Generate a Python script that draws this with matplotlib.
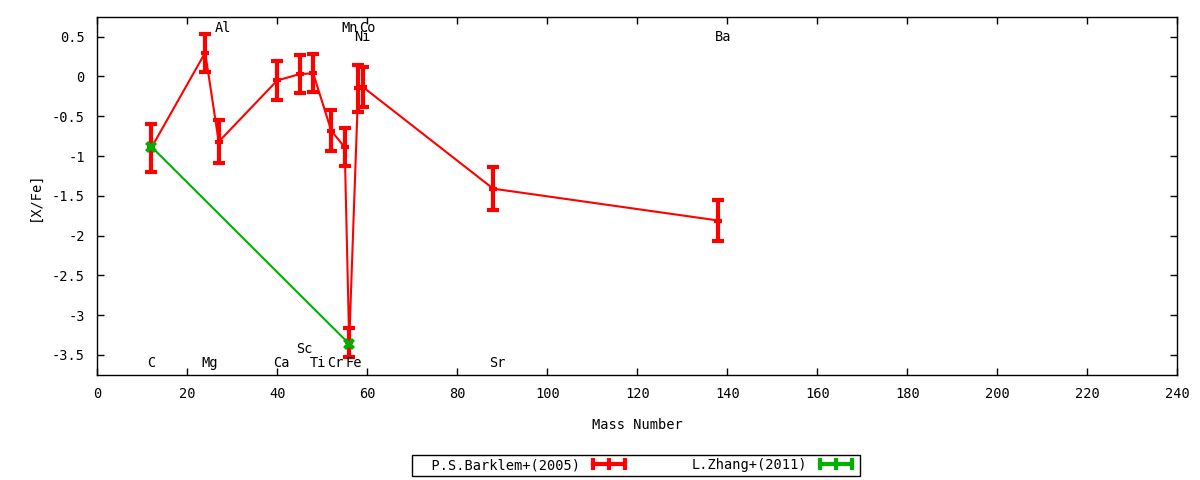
import matplotlib
matplotlib.use("Agg")
import matplotlib.pyplot as plt
from matplotlib.lines import Line2D
from matplotlib.ticker import FuncFormatter

plt.rcParams["font.family"] = ["DejaVu Sans Mono"]
plt.rcParams["font.size"] = 10

# P.S.Barklem+(2005)
barklem_mass = [12, 24, 27, 40, 45, 48, 52, 55, 56, 58, 59, 88, 138]
barklem_xfe = [-0.90, 0.30, -0.82, -0.05, 0.03, 0.04, -0.68, -0.89, -3.34, -0.15, -0.13, -1.41, -1.81]
barklem_err = [0.30, 0.24, 0.27, 0.25, 0.24, 0.24, 0.26, 0.24, 0.18, 0.30, 0.25, 0.27, 0.26]

# L.Zhang+(2011)
zhang_mass = [12, 56]
zhang_xfe = [-0.88, -3.36]
zhang_err = [0.03, 0.03]

# element labels
elem_names = ["C", "Mg", "Al", "Ca", "Sc", "Ti", "Cr", "Mn", "Fe", "Co", "Ni", "Sr", "Ba"]
elem_mass = [12, 24, 27, 40, 45, 48, 52, 55, 56, 59, 58, 88, 138]
elem_ypos = [-3.6, -3.6, 0.61, -3.6, -3.42, -3.6, -3.6, 0.61, -3.6, 0.61, 0.49, -3.6, 0.49]

RED = "#ff0000"
GREEN = "#00b000"
FS = 9.8


def main():
    fig = plt.figure(figsize=(12, 4.8), dpi=100)
    ax = fig.add_axes([0.081, 0.219, 0.9, 0.746])

    ax.plot(barklem_mass, barklem_xfe, color=RED, lw=1.5, zorder=2)
    ax.errorbar(barklem_mass, barklem_xfe, yerr=barklem_err, fmt="_", color=RED,
                ms=6, mew=3, elinewidth=3, capsize=4, capthick=3, zorder=3)

    ax.plot(zhang_mass, zhang_xfe, color=GREEN, lw=1.5, zorder=4)
    ax.errorbar(zhang_mass, zhang_xfe, yerr=zhang_err, fmt="X", color=GREEN,
                ms=8, mew=0, elinewidth=3, capsize=4, capthick=3, zorder=5)

    for name, m, y in zip(elem_names, elem_mass, elem_ypos):
        ax.text(m - 0.8, y, name, ha="left", va="center", fontsize=FS)

    ax.set_xlim(0, 240)
    ax.set_ylim(-3.75, 0.75)
    ax.set_xticks(range(0, 241, 20))
    ax.set_yticks([0.5, 0, -0.5, -1, -1.5, -2, -2.5, -3, -3.5])
    ax.yaxis.set_major_formatter(FuncFormatter(lambda v, p: "%g" % v))
    ax.tick_params(direction="in", length=5, width=1, top=True, right=True,
                   labelsize=FS, pad=9)
    for s in ax.spines.values():
        s.set_linewidth(1)

    ax.set_xlabel("Mass Number", fontsize=FS, labelpad=12)
    ax.set_ylabel("[X/Fe]", fontsize=FS, labelpad=7)

    handles = [
        Line2D([], [], color=RED, lw=3, marker="|", ms=8, mew=3),
        Line2D([], [], color=GREEN, lw=3, marker="|", ms=8, mew=3),
    ]
    fig.legend(handles, ["  P.S.Barklem+(2005)", "L.Zhang+(2011)"], loc="center",
               bbox_to_anchor=(0.53, 0.031), ncol=2, markerfirst=False, numpoints=3,
               frameon=True, fancybox=False, edgecolor="black", framealpha=1,
               handlelength=3.0, columnspacing=4.6, fontsize=FS,
               borderpad=0.25, handletextpad=0.6)

    fig.savefig("out.png", dpi=100)
    plt.close(fig)


if __name__ == "__main__":
    main()
